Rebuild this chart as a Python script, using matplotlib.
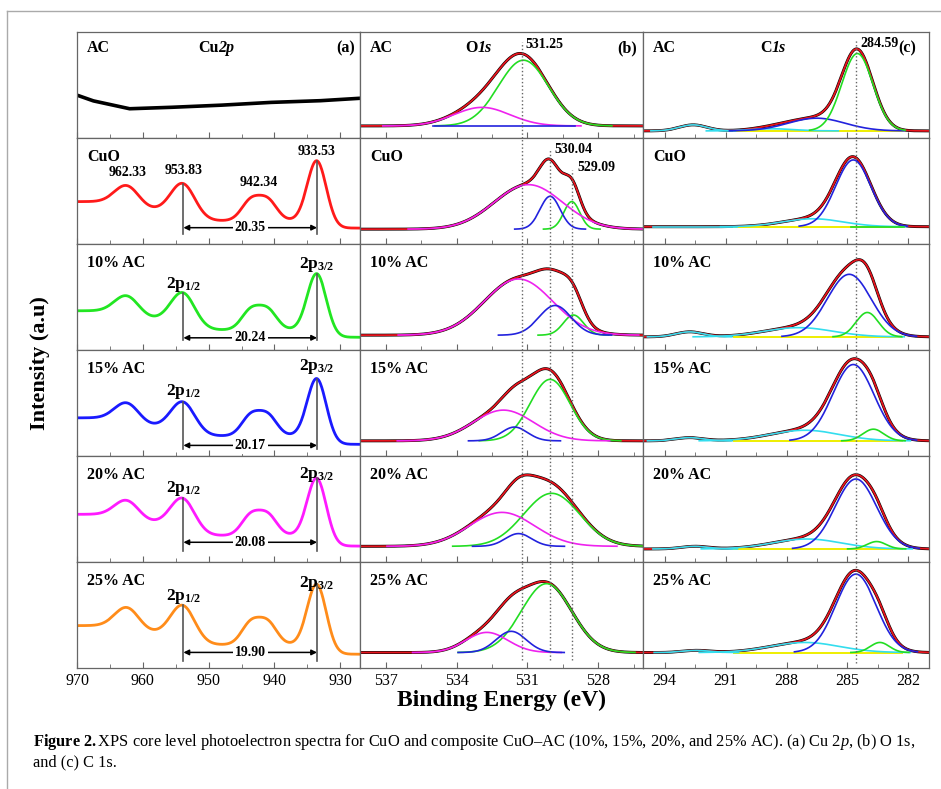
import math
import numpy as np
import matplotlib
matplotlib.use("Agg")
import matplotlib.pyplot as plt
from matplotlib.lines import Line2D
from matplotlib.ticker import MultipleLocator

plt.rcParams["font.family"] = ["Liberation Serif", "DejaVu Serif"]
plt.rcParams["mathtext.fontset"] = "custom"
plt.rcParams["mathtext.rm"] = "Liberation Serif"
plt.rcParams["mathtext.it"] = "Liberation Serif:italic"
plt.rcParams["mathtext.bf"] = "Liberation Serif:bold"

samples = ["AC", "CuO", "10% AC", "15% AC", "20% AC", "25% AC"]

# ---------------- Cu 2p (column a) ----------------
cu_lim = (970.0, 927.0)
ac_cu_energy = [969.8, 967.5, 962.0, 955.5, 948.0, 940.5, 933.0, 927.2]
ac_cu_level = [0.40, 0.35, 0.276, 0.29, 0.31, 0.336, 0.352, 0.374]
cu_centers = [962.33, 953.83, 943.6, 941.0, 933.53]
cu_fwhm = [4.3, 4.3, 3.3, 3.3, 3.4]
cu_base = [0.15, 0.12, 0.11, 0.15, 0.13]
cu_steps = [[0.08, 0.10, 0.0, 0.0, 0.07],
            [0.08, 0.10, 0.0, 0.0, 0.07],
            [0.08, 0.09, 0.0, 0.0, 0.08],
            [0.08, 0.12, 0.0, 0.0, 0.10],
            [0.07, 0.11, 0.0, 0.0, 0.09]]
cu_heights = [[0.19, 0.30, 0.185, 0.185, 0.60],
              [0.18, 0.30, 0.18, 0.18, 0.565],
              [0.18, 0.275, 0.185, 0.185, 0.58],
              [0.17, 0.29, 0.185, 0.185, 0.59],
              [0.205, 0.315, 0.20, 0.20, 0.615]]
cu_colors = ["black", "#ff1a1a", "#22e622", "#1a1aff", "#ff1aff", "#ff8c1a"]
cuo_peak_text = ["962.33", "953.83", "942.34", "933.53"]
cuo_peak_x = [962.33, 953.83, 942.34, 933.53]
cuo_peak_y = [0.67, 0.69, 0.58, 0.87]
split_text = ["20.35", "20.24", "20.17", "20.08", "19.90"]
arrow_y = [0.154, 0.115, 0.10, 0.186, 0.147]
drop_bottom = [0.094, 0.093, 0.065, 0.107, 0.066]
p12_y = [0.62, 0.61, 0.69, 0.67]
p32_y = [0.81, 0.84, 0.83, 0.80]

# ---------------- O 1s (column b) ----------------
o_lim = (538.1, 526.1)
o_base = [0.114, 0.14, 0.14, 0.143, 0.148, 0.146]
o_green_c = [531.17, 529.12, 529.05, 530.04, 529.97, 530.19]
o_green_h = [0.62, 0.26, 0.19, 0.58, 0.50, 0.65]
o_green_w = [2.5, 0.8, 1.0, 2.0, 2.8, 2.5]
o_magenta_c = [532.93, 530.96, 531.38, 532.02, 532.08, 532.72]
o_magenta_h = [0.175, 0.42, 0.53, 0.29, 0.32, 0.19]
o_magenta_w = [2.8, 3.4, 3.4, 3.0, 3.25, 2.1]
o_blue_c = [532.0, 530.04, 529.83, 531.55, 531.38, 531.69]
o_blue_h = [0.0, 0.31, 0.28, 0.13, 0.12, 0.20]
o_blue_w = [2.0, 1.0, 1.6, 1.3, 1.3, 1.5]

# ---------------- C 1s (column c) ----------------
c_lim = (295.07, 280.98)
c_base = [0.067, 0.163, 0.124, 0.143, 0.123, 0.146]
c_blue_c = [286.52, 284.71, 284.91, 284.71, 284.58, 284.58]
c_blue_h = [0.12, 0.63, 0.59, 0.72, 0.66, 0.74]
c_blue_w = [3.3, 2.05, 2.55, 2.4, 2.4, 2.33]
c_green_c = [284.51, 283.5, 284.02, 283.72, 283.56, 283.4]
c_green_h = [0.73, 0.0, 0.23, 0.11, 0.07, 0.095]
c_green_w = [1.81, 1.0, 1.3, 1.2, 1.1, 1.1]
c_cyan_c = [288.7, 286.7, 287.4, 287.1, 287.0, 287.1]
c_cyan_h = [0.02, 0.075, 0.087, 0.10, 0.094, 0.095]
c_cyan_w = [2.5, 3.5, 4.0, 4.0, 4.0, 4.0]
c_bump_c = [292.6, 292.5, 292.77, 292.77, 292.5, 292.44]
c_bump_h = [0.057, 0.0, 0.047, 0.03, 0.025, 0.02]
c_bump_w = [1.6, 1.6, 1.6, 1.6, 1.6, 1.6]

erf = np.vectorize(math.erf)


def gauss(e, c, h, w):
    return h * np.exp(-4 * np.log(2) * ((e - c) / w) ** 2)


def step(e, c, w):
    s = w / (2 * np.sqrt(2 * np.log(2)))
    return 0.5 * (1 + erf((e - c) / (s * np.sqrt(2))))


def cu_curve(e, r):
    e = np.asarray(e, dtype=float)
    y = np.full(e.shape, cu_base[r])
    for c, w, s, h in zip(cu_centers, cu_fwhm, cu_steps[r], cu_heights[r]):
        y = y + s * step(e, c, w) + gauss(e, c, h, w)
    return y


W, H = 941, 789
fig = plt.figure(figsize=(W / 100, H / 100), dpi=100)
col_x = [77, 360, 643]
col_w = [283, 283, 286]
top, row_h = 32, 106
spine_col = "#666666"
lab_kw = dict(fontsize=11.5, fontweight="bold", va="center")

for r in range(6):
    for col in range(3):
        ax = fig.add_axes([col_x[col] / W, 1 - (top + (r + 1) * row_h) / H,
                           col_w[col] / W, row_h / H])
        for sp in ax.spines.values():
            sp.set_color(spine_col)
            sp.set_linewidth(0.9)
        ax.set_ylim(0, 1)
        ax.set_yticks([])
        ax.tick_params(axis="x", which="both", direction="in", color=spine_col,
                       labelsize=11.5, top=False)
        ax.tick_params(axis="x", which="major", length=4)
        ax.tick_params(axis="x", which="minor", length=3)
        if r < 5:
            ax.tick_params(labelbottom=False)
        ax.text(0.035, 0.85 if r == 0 else 0.82, samples[r], transform=ax.transAxes, **lab_kw)

        if col == 0:
            ax.set_xlim(*cu_lim)
            ax.xaxis.set_major_locator(MultipleLocator(10))
            ax.xaxis.set_minor_locator(MultipleLocator(5))
            if r == 0:
                ax.plot(ac_cu_energy, ac_cu_level, color="black", lw=2.6)
                ax.text(0.50, 0.85, "Cu", transform=ax.transAxes, ha="right", **lab_kw)
                ax.text(0.50, 0.85, "2p", transform=ax.transAxes, ha="left",
                        style="italic", **lab_kw)
                ax.text(0.95, 0.85, "(a)", transform=ax.transAxes, ha="center", **lab_kw)
                continue
            k = r - 1
            e = np.linspace(cu_lim[1], cu_lim[0], 600)
            ax.plot(e, cu_curve(e, k), color=cu_colors[r], lw=2.0)
            for xp in (953.83, 933.53):
                ax.plot([xp, xp], [drop_bottom[k], cu_curve(xp, k)], color="#555555", lw=1.2)
            ax.annotate("", xy=(933.53, arrow_y[k]), xytext=(953.83, arrow_y[k]),
                        arrowprops=dict(arrowstyle="<|-|>", color="black", lw=1.1,
                                        mutation_scale=8, shrinkA=0, shrinkB=0))
            ax.text((953.83 + 933.53) / 2, arrow_y[k], split_text[k], ha="center",
                    va="center", fontsize=10, fontweight="bold",
                    bbox=dict(fc="white", ec="none", pad=1.5))
            if r == 1:
                for t, xp, yp in zip(cuo_peak_text, cuo_peak_x, cuo_peak_y):
                    ax.text(xp, yp, t, ha="center", va="center", fontsize=10,
                            fontweight="bold")
            else:
                ax.text(953.83, p12_y[k - 1], r"$\mathbf{2p}_{\mathbf{1/2}}$",
                        ha="center", va="center", fontsize=12.5)
                ax.text(933.53, p32_y[k - 1], r"$\mathbf{2p}_{\mathbf{3/2}}$",
                        ha="center", va="center", fontsize=12.5)

        elif col == 1:
            ax.set_xlim(*o_lim)
            ax.xaxis.set_major_locator(MultipleLocator(3))
            ax.xaxis.set_minor_locator(MultipleLocator(1.5))
            e = np.linspace(o_lim[1], o_lim[0], 600)
            comps = [("#22dd22", o_green_c[r], o_green_h[r], o_green_w[r]),
                     ("#ee22ee", o_magenta_c[r], o_magenta_h[r], o_magenta_w[r]),
                     ("#2222dd", o_blue_c[r], o_blue_h[r], o_blue_w[r])]
            total = np.full(e.shape, o_base[r])
            for _, c, h, w in comps:
                total = total + gauss(e, c, h, w)
            ax.plot(e, total, color="black", lw=2.1)
            ax.plot(e, total, color="#e8141e", lw=1.3)
            for colr, c, h, w in comps:
                ew = np.linspace(c - 1.5 * w, c + 1.5 * w, 200)
                ax.plot(ew, o_base[r] + gauss(ew, c, h, w), color=colr, lw=1.2)
            if r == 0:
                ax.axvline(531.25, ymin=0, ymax=0.91, color="#666666", ls=":", lw=1)
                ax.text(531.1, 0.88, "531.25", ha="left", va="center", fontsize=10,
                        fontweight="bold")
                ax.text(0.417, 0.85, "O", transform=ax.transAxes, ha="right", **lab_kw)
                ax.text(0.417, 0.85, "1s", transform=ax.transAxes, ha="left",
                        style="italic", **lab_kw)
                ax.text(0.943, 0.85, "(b)", transform=ax.transAxes, ha="center", **lab_kw)
            else:
                lo = 0.08 if r == 5 else 0
                ax.axvline(531.25, ymin=lo, ymax=1, color="#666666", ls=":", lw=1)
                ax.axvline(530.04, ymin=lo, ymax=0.89 if r == 1 else 1,
                           color="#666666", ls=":", lw=1)
                ax.axvline(529.09, ymin=lo, ymax=0.70 if r == 1 else 1,
                           color="#666666", ls=":", lw=1)
                if r == 1:
                    ax.text(529.85, 0.89, "530.04", ha="left", va="center",
                            fontsize=10, fontweight="bold")
                    ax.text(528.9, 0.72, "529.09", ha="left", va="center",
                            fontsize=10, fontweight="bold")

        else:
            ax.set_xlim(*c_lim)
            ax.xaxis.set_major_locator(MultipleLocator(3))
            ax.xaxis.set_minor_locator(MultipleLocator(1.5))
            e = np.linspace(c_lim[1], c_lim[0], 600)
            comps = [("#33ddee", c_bump_c[r], c_bump_h[r], c_bump_w[r]),
                     ("#33ddee", c_cyan_c[r], c_cyan_h[r], c_cyan_w[r]),
                     ("#2222dd", c_blue_c[r], c_blue_h[r], c_blue_w[r]),
                     ("#22dd22", c_green_c[r], c_green_h[r], c_green_w[r])]
            total = np.full(e.shape, c_base[r])
            for _, c, h, w in comps:
                total = total + gauss(e, c, h, w)
            ax.plot(e, total, color="black", lw=2.1)
            ax.plot(e, total, color="#e8141e", lw=1.3)
            ax.plot([290.6, 282.3], [c_base[r], c_base[r]], color="#eeee00", lw=1.4)
            for colr, c, h, w in comps:
                ew = np.linspace(c - 1.3 * w, c + 1.3 * w, 200)
                ax.plot(ew, c_base[r] + gauss(ew, c, h, w), color=colr, lw=1.2)
            lo = 0.05 if r == 5 else 0
            hi = 0.93 if r == 0 else 1
            ax.axvline(284.59, ymin=lo, ymax=hi, color="#666666", ls=":", lw=1)
            if r == 0:
                ax.text(284.35, 0.89, "284.59", ha="left", va="center", fontsize=10,
                        fontweight="bold")
                ax.text(0.45, 0.85, "C", transform=ax.transAxes, ha="right", **lab_kw)
                ax.text(0.45, 0.85, "1s", transform=ax.transAxes, ha="left",
                        style="italic", **lab_kw)
                ax.text(0.923, 0.85, "(c)", transform=ax.transAxes, ha="center", **lab_kw)

fig.text(40 / W, 1 - 363 / H, "Intensity (a.u)", rotation=90, ha="center", va="center",
         fontsize=16, fontweight="bold")
fig.text(502 / W, 1 - 700 / H, "Binding Energy (eV)", ha="center", va="center",
         fontsize=17, fontweight="bold")

cap1 = (r"$\mathbf{Figure\ 2.}$XPS core level photoelectron spectra for CuO and composite "
        r"CuO–AC (10%, 15%, 20%, and 25% AC). (a) Cu $\mathit{2p}$, (b) O 1s,")
fig.text(33 / W, 1 - 742 / H, cap1, ha="left", va="center", fontsize=11.8)
fig.text(33 / W, 1 - 762 / H, "and (c) C 1s.", ha="left", va="center", fontsize=11.8)

fig.add_artist(Line2D([7 / W, 7 / W], [0, 1 - 11 / H], transform=fig.transFigure,
                      color="#aaaaaa", lw=1))
fig.add_artist(Line2D([7 / W, 1], [1 - 11 / H, 1 - 11 / H], transform=fig.transFigure,
                      color="#aaaaaa", lw=1))

fig.savefig("out.png", dpi=100)
